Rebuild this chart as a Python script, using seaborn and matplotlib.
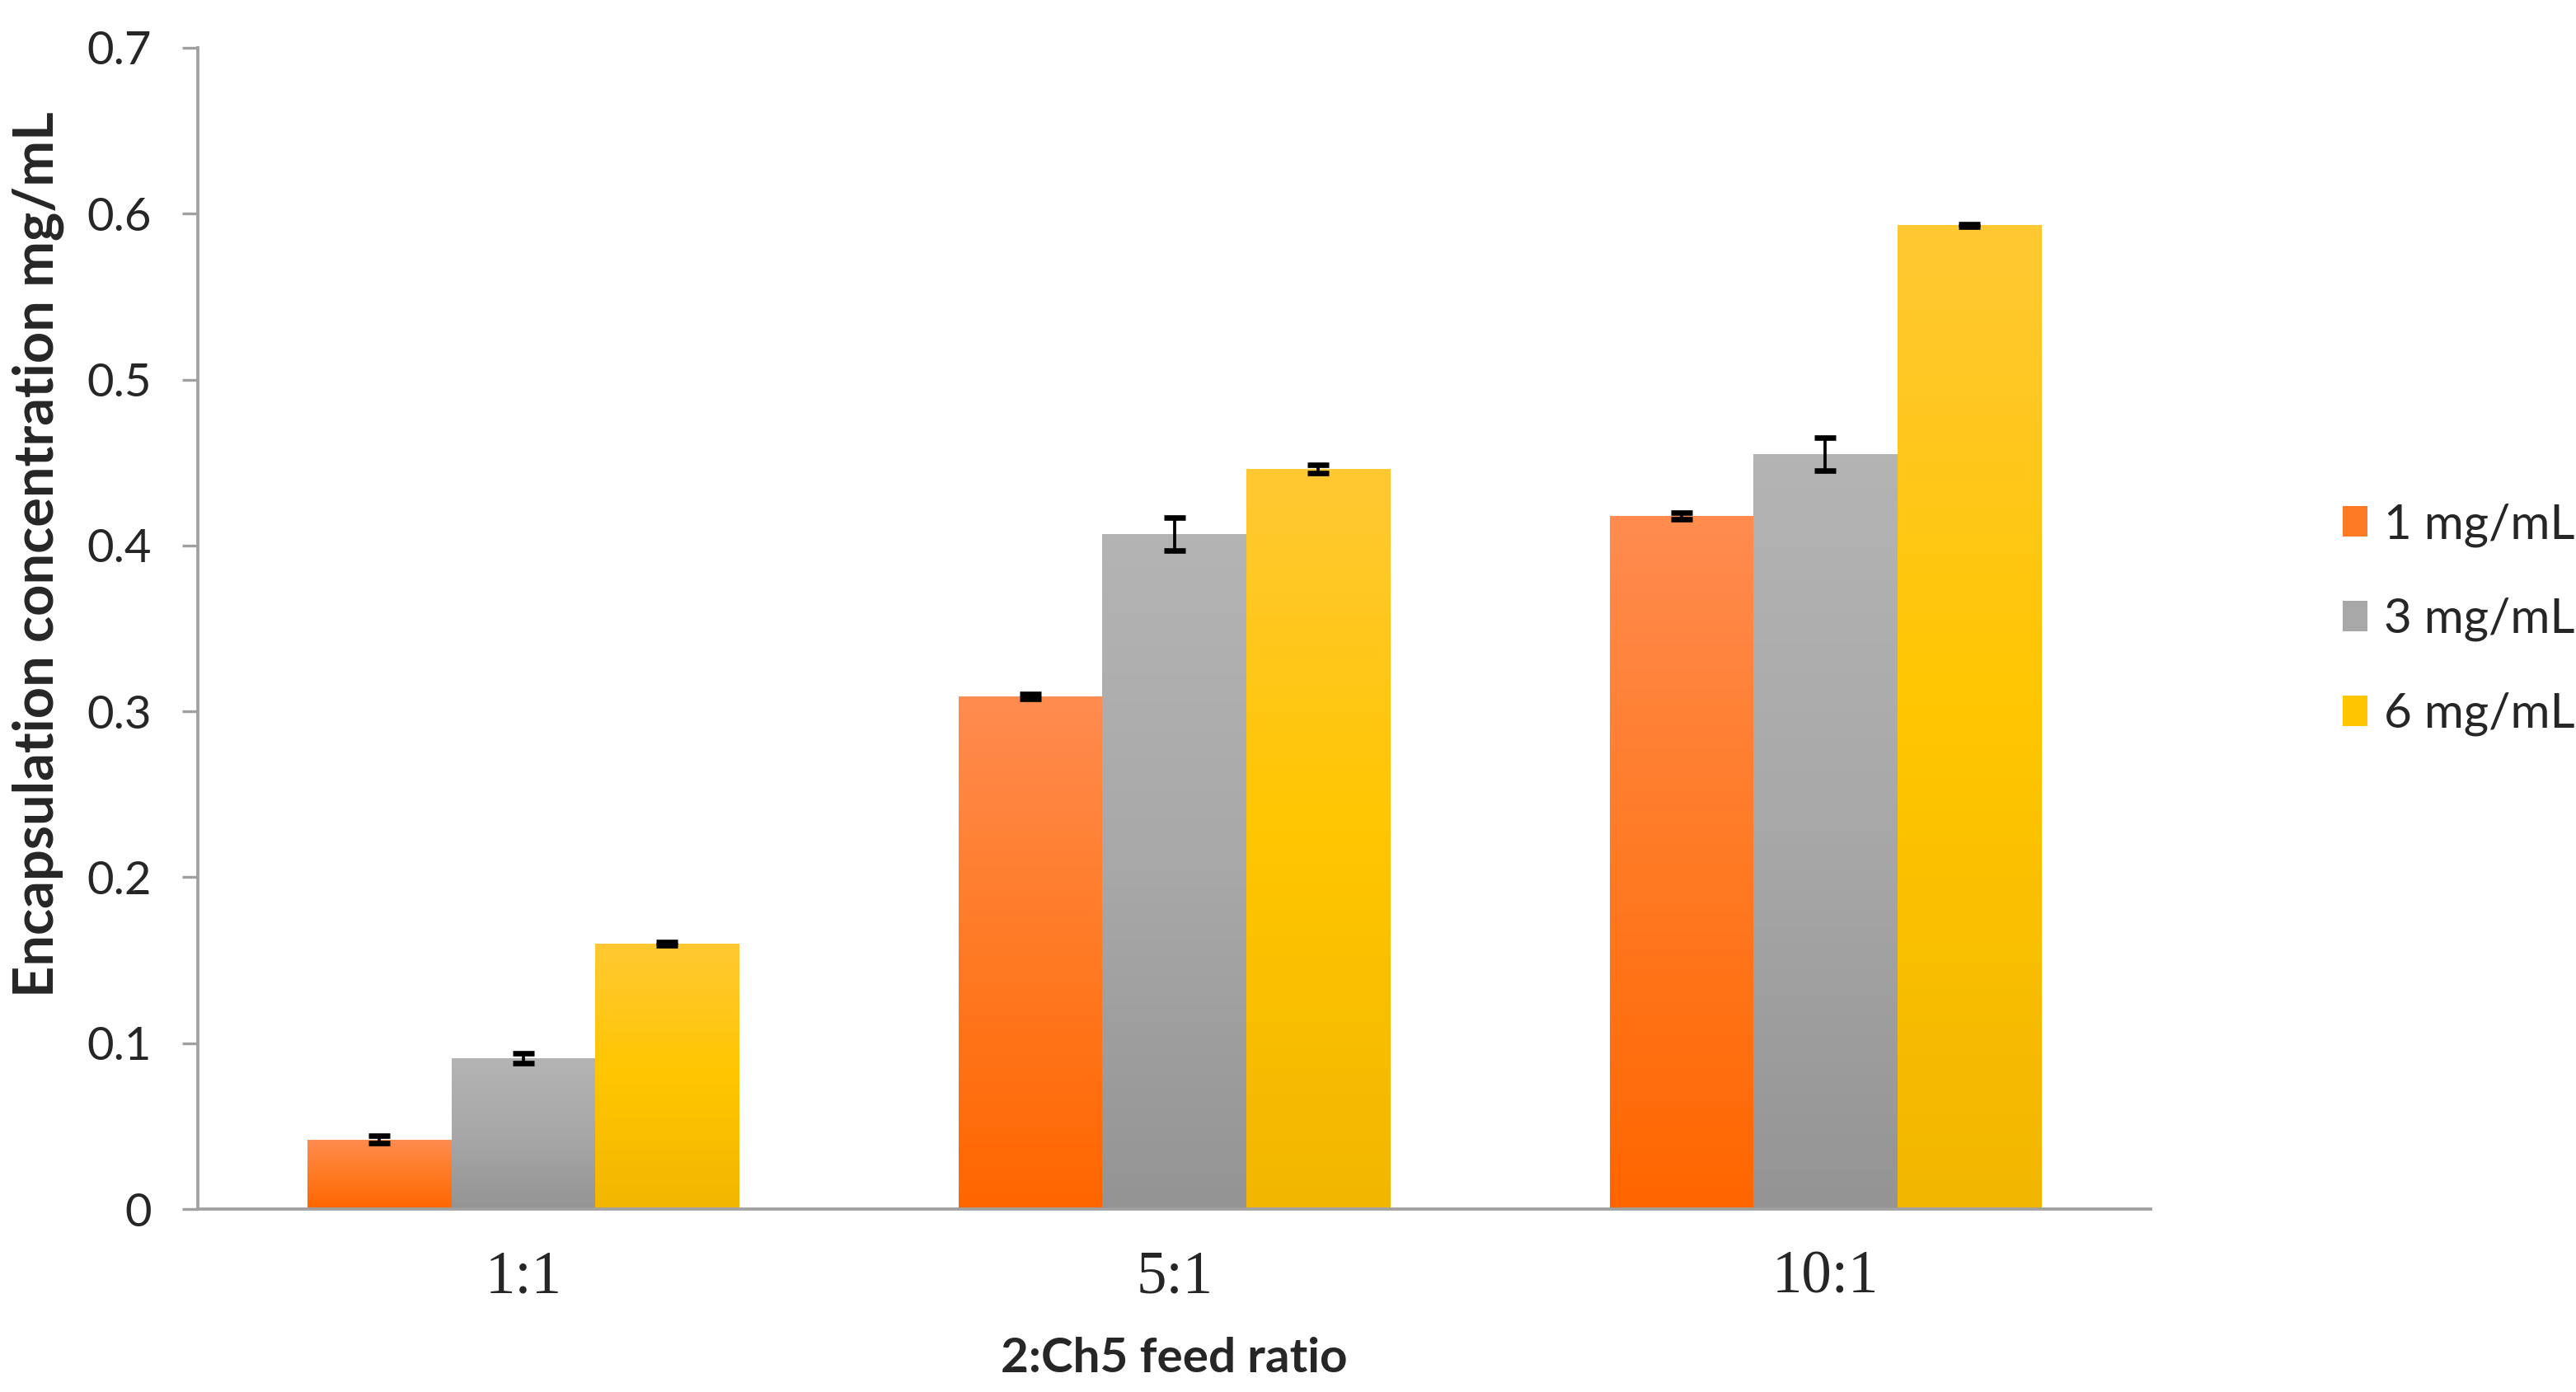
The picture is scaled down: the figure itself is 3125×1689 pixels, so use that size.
import numpy as np
import pandas as pd
import matplotlib
matplotlib.use("Agg")
import matplotlib.pyplot as plt
import seaborn as sns
from matplotlib.colors import LinearSegmentedColormap
from matplotlib.patches import Patch

# Dados
ratios = ['1:1', '5:1', '10:1']
series = ['1 mg/mL', '3 mg/mL', '6 mg/mL']
conc_1 = [0.042, 0.309, 0.418]
conc_3 = [0.091, 0.407, 0.455]
conc_6 = [0.160, 0.446, 0.593]
err_1 = [0.002, 0.0015, 0.002]
err_3 = [0.003, 0.010, 0.010]
err_6 = [0.001, 0.0025, 0.0007]
y_ticks = [0, 0.1, 0.2, 0.3, 0.4, 0.5, 0.6, 0.7]

base_colors = ['#FF7A1E', '#AAAAAA', '#FFC400']
gradients = [
    ['#FF8C50', '#FF7A24', '#FF6600'],
    ['#B4B4B4', '#A8A8A8', '#949494'],
    ['#FFC933', '#FFC600', '#F2B600'],
]

df = pd.DataFrame({
    'ratio': ratios * 3,
    'serie': [s for s in series for _ in ratios],
    'valor': conc_1 + conc_3 + conc_6,
})
erros = [err_1, err_3, err_6]

sns.set_style("white")
plt.rcParams['font.family'] = ['Lato', 'DejaVu Sans']

fig = plt.figure(figsize=(3125 / 300, 1689 / 300), dpi=300)
ax = fig.add_axes([0.0768, 0.1314, 0.835 - 0.0768, 0.9657 - 0.1314])

sns.barplot(data=df, x='ratio', y='valor', hue='serie', order=ratios,
            hue_order=series, palette=base_colors, width=0.663,
            errorbar=None, saturation=1, ax=ax, legend=False, linewidth=0)

# Gradiente vertical em cada barra + barras de erro
bar_containers = list(ax.containers)
for i, cont in enumerate(bar_containers):
    cmap = LinearSegmentedColormap.from_list(f'g{i}', gradients[i][::-1])
    grad = np.linspace(0, 1, 256).reshape(-1, 1)
    for j, bar in enumerate(cont):
        x0, y0 = bar.get_x(), bar.get_y()
        w, h = bar.get_width(), bar.get_height()
        im = ax.imshow(grad, cmap=cmap, origin='lower', aspect='auto',
                       extent=[x0, x0 + w, y0, y0 + h], zorder=bar.get_zorder())
        im.set_clip_path(bar)
        ax.errorbar(x0 + w / 2, h, yerr=erros[i][j], fmt='none', ecolor='black',
                    elinewidth=0.9, capsize=3.2, capthick=1.6, zorder=5)

ax.set_xlim(-0.5, 2.5)
ax.set_ylim(0, 0.7)
ax.set_yticks(y_ticks)
ax.set_yticklabels([f'{v:g}' for v in y_ticks], fontsize=13.5)
ax.set_xticks(range(len(ratios)))
ax.set_xticklabels(ratios, fontsize=17.5, family=['Liberation Serif'])
ax.set_xticks([-0.5, 0.5, 1.5, 2.5], minor=True)
ax.tick_params(axis='x', which='major', length=0, pad=12)
ax.tick_params(axis='x', which='minor', length=4, width=0.8, color='#A0A0A0',
               direction='out')
ax.tick_params(axis='y', length=4.5, width=0.8, color='#A0A0A0', direction='out',
               pad=9, left=True)

for side in ['top', 'right']:
    ax.spines[side].set_visible(False)
for side in ['left', 'bottom']:
    ax.spines[side].set_color('#A0A0A0')
    ax.spines[side].set_linewidth(0.9)

ax.set_ylabel('Encapsulation concentration mg/mL', fontsize=16,
              fontweight='bold')
ax.yaxis.set_label_coords(-0.0685, 0.564)
ax.set_xlabel('2:Ch5 feed ratio', fontsize=14, fontweight='bold', labelpad=9)

handles = [Patch(facecolor=gradients[i][1], edgecolor='none') for i in range(3)]
fig.legend(handles, series, loc='center left', bbox_to_anchor=(0.902, 0.555),
           frameon=False, fontsize=14, handlelength=0.52, handleheight=0.6,
           handletextpad=0.34, labelspacing=1.05, borderaxespad=0)

plt.savefig('out.png', dpi=300)
